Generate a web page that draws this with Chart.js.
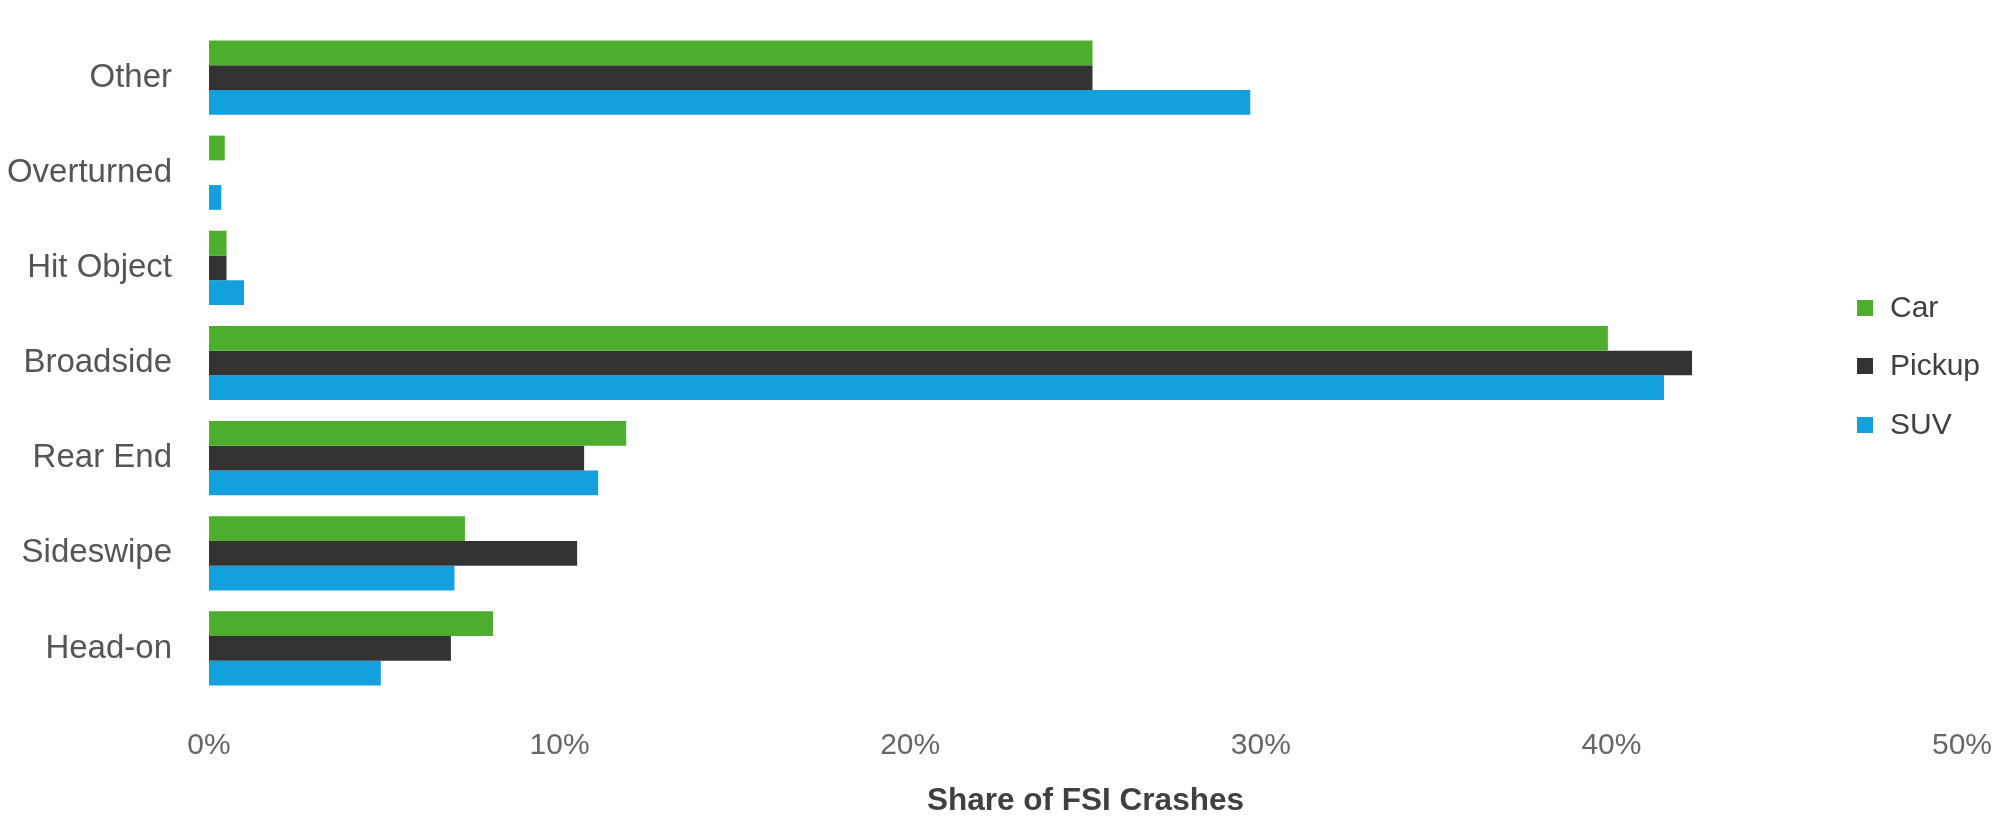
<!DOCTYPE html>
<html>
<head>
<meta charset="utf-8">
<script src="https://cdn.jsdelivr.net/npm/chart.js@4"></script>
<style>
  html, body { margin: 0; padding: 0; background: #ffffff; }
  #wrap { width: 1997px; height: 822px; position: relative; }
</style>
</head>
<body>
<div id="wrap"><canvas id="c" width="1997" height="822"></canvas></div>
<script>
const categories = ["Other", "Overturned", "Hit Object", "Broadside", "Rear End", "Sideswipe", "Head-on"];
const seriesNames = ["Car", "Pickup", "SUV"];
const carValues =    [25.2, 0.45, 0.5, 39.9, 11.9, 7.3, 8.1];
const pickupValues = [25.2, 0.0,  0.5, 42.3, 10.7, 10.5, 6.9];
const suvValues =    [29.7, 0.35, 1.0, 41.5, 11.1, 7.0, 4.9];
const xTicks = [0, 10, 20, 30, 40, 50];
const axisTitle = "Share of FSI Crashes";

const colors = ["#4CAE2C", "#333333", "#14A0DC"];
const FONT = "'Liberation Sans', Arial, sans-serif";

const legendPlugin = {
  id: 'sideLegend',
  afterDraw(chart) {
    const ctx = chart.ctx;
    ctx.save();
    ctx.font = "30px " + FONT;
    ctx.textBaseline = "middle";
    ctx.textAlign = "left";
    const ys = [308, 366, 425];
    chart.data.datasets.forEach((ds, i) => {
      const y = ys[i];
      ctx.fillStyle = ds.backgroundColor;
      ctx.fillRect(1857, y - 8, 16, 16);
      ctx.fillStyle = "#404040";
      ctx.fillText(ds.label, 1890, y + 1);
    });
    ctx.restore();
  }
};

new Chart(document.getElementById('c'), {
  type: 'bar',
  data: {
    labels: categories,
    datasets: [
      { label: seriesNames[0], data: carValues, backgroundColor: colors[0] },
      { label: seriesNames[1], data: pickupValues, backgroundColor: colors[1] },
      { label: seriesNames[2], data: suvValues, backgroundColor: colors[2] }
    ]
  },
  options: {
    indexAxis: 'y',
    responsive: false,
    animation: false,
    devicePixelRatio: 1,
    layout: { padding: { top: 30, right: 35, left: 0, bottom: 0 } },
    datasets: { bar: { categoryPercentage: 0.78, barPercentage: 1.0, borderWidth: 0 } },
    plugins: { legend: { display: false }, tooltip: { enabled: false } },
    scales: {
      x: {
        min: 0, max: 50,
        afterFit(scale) {
          scale.height = 126;
          scale.paddingLeft = 0; scale.paddingRight = 0;
          scale.paddingTop = 0; scale.paddingBottom = 0;
        },
        afterBuildTicks(scale) { scale.ticks = xTicks.map(v => ({ value: v })); },
        grid: { display: false, drawTicks: false },
        border: { display: false },
        ticks: {
          padding: 32,
          color: "#666666",
          font: { family: FONT, size: 30 },
          maxRotation: 0,
          callback: (v) => v + "%"
        },
        title: {
          display: true,
          text: axisTitle,
          color: "#404040",
          font: { family: FONT, size: 31.5, weight: 'bold' },
          padding: { top: 0, bottom: 2 }
        }
      },
      y: {
        afterFit(scale) {
          scale.width = 209;
          scale.paddingLeft = 0; scale.paddingRight = 0;
          scale.paddingTop = 0; scale.paddingBottom = 0;
        },
        grid: { display: false, drawTicks: false },
        border: { display: false },
        ticks: {
          padding: 37,
          color: "#555555",
          font: { family: FONT, size: 33 },
          autoSkip: false
        }
      }
    }
  },
  plugins: [legendPlugin]
});
</script>
</body>
</html>
